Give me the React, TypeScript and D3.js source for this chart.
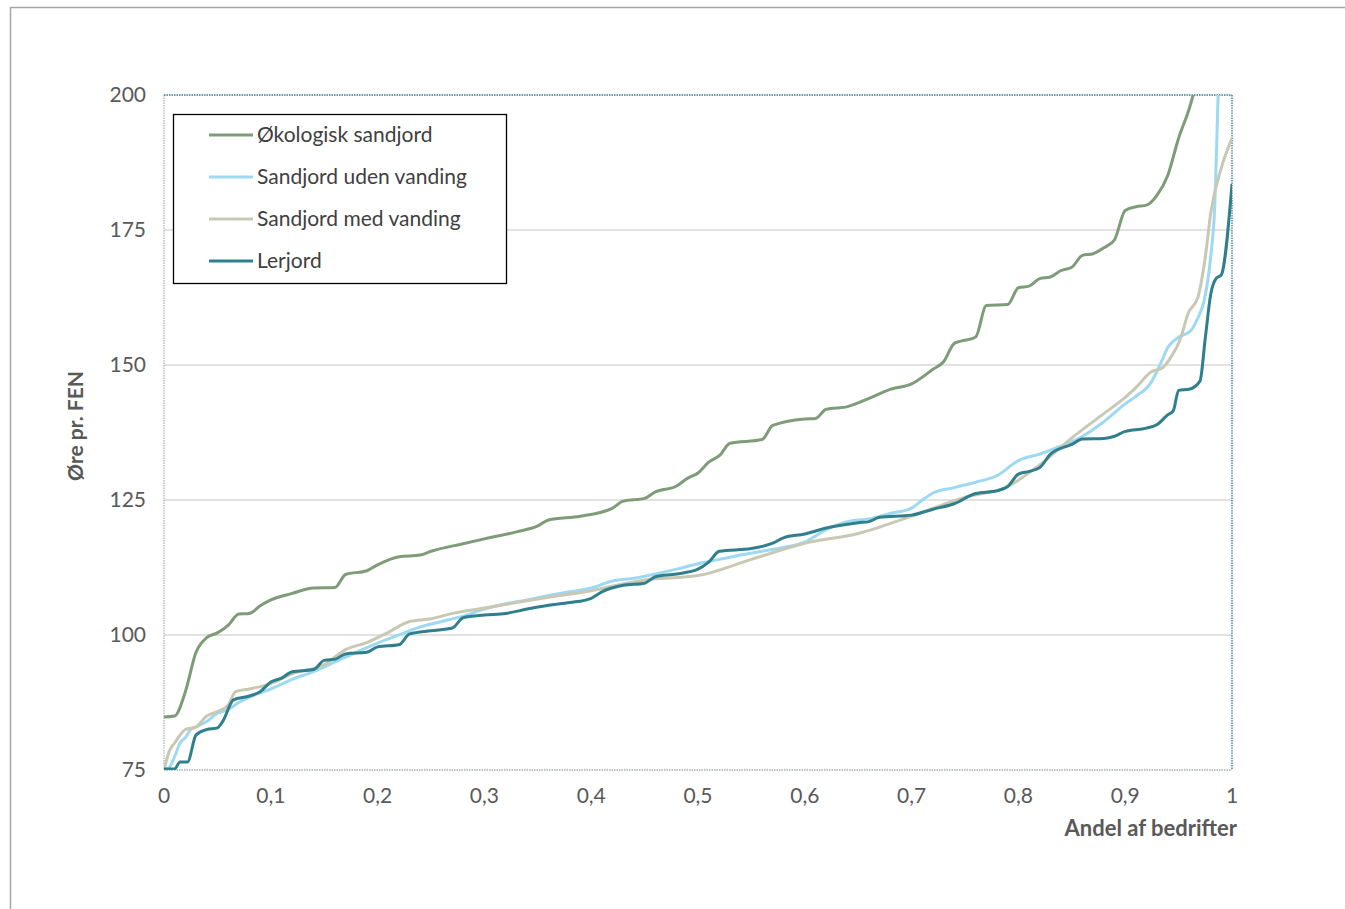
import React from 'react';
import * as d3 from 'd3';

// [andel, øre pr. FEN]
const okologisk: [number, number][] = [
  [0, 84.8], [0.01, 85], [0.02, 89.5], [0.03, 96.8], [0.04, 99.5], [0.05, 100.4], [0.06, 101.8],
  [0.07, 103.9], [0.08, 104], [0.09, 105.4], [0.1, 106.5], [0.12, 107.7], [0.14, 108.7], [0.16, 108.8],
  [0.17, 111.2], [0.19, 111.9], [0.2, 113], [0.22, 114.5], [0.24, 114.8], [0.25, 115.5], [0.28, 116.9],
  [0.3, 117.8], [0.33, 119.1], [0.35, 120.2], [0.36, 121.3], [0.39, 122], [0.42, 123.5], [0.43, 124.8],
  [0.45, 125.3], [0.46, 126.5], [0.48, 127.6], [0.49, 129], [0.5, 130], [0.51, 132], [0.52, 133.2],
  [0.53, 135.5], [0.56, 136.2], [0.57, 138.8], [0.6, 140], [0.61, 140.1], [0.62, 141.8], [0.64, 142.3],
  [0.66, 143.8], [0.68, 145.5], [0.7, 146.5], [0.72, 149.2], [0.73, 150.6], [0.74, 154], [0.76, 155.2],
  [0.77, 161], [0.79, 161.2], [0.8, 164.3], [0.81, 164.6], [0.82, 166], [0.83, 166.3], [0.84, 167.5],
  [0.85, 168.1], [0.86, 170.3], [0.87, 170.6], [0.88, 171.7], [0.89, 173.2], [0.9, 178.6], [0.91, 179.3],
  [0.92, 179.6], [0.93, 181.5], [0.94, 185.2], [0.95, 192], [0.96, 197.5], [0.965, 201], [0.98, 215],
];

const udenVanding: [number, number][] = [
  [0, 75], [0.005, 75.5], [0.01, 77.5], [0.015, 80], [0.02, 81], [0.025, 82.5], [0.03, 83], [0.04, 84],
  [0.05, 85.5], [0.06, 86.2], [0.07, 87.5], [0.08, 88.5], [0.1, 90], [0.12, 91.8], [0.14, 93.2],
  [0.16, 95], [0.18, 96.8], [0.2, 98.5], [0.22, 100], [0.24, 101.5], [0.26, 102.5], [0.28, 103.5],
  [0.3, 104.8], [0.32, 105.8], [0.34, 106.5], [0.36, 107.3], [0.38, 108], [0.4, 108.7], [0.42, 110],
  [0.44, 110.5], [0.46, 111.3], [0.48, 112.2], [0.5, 113.2], [0.52, 114], [0.54, 114.8], [0.56, 115.5],
  [0.58, 116.2], [0.6, 117.2], [0.62, 119.5], [0.64, 121], [0.66, 121.5], [0.68, 122.5], [0.7, 123.5],
  [0.71, 125], [0.72, 126.3], [0.74, 127.3], [0.76, 128.3], [0.78, 129.5], [0.8, 132.3], [0.82, 133.5],
  [0.84, 135], [0.86, 136.8], [0.88, 139.5], [0.9, 142.8], [0.91, 144.2], [0.924, 146.7], [0.933, 150.2],
  [0.94, 153.3], [0.949, 155], [0.962, 156.5], [0.968, 158.7], [0.974, 162], [0.98, 170], [0.984, 180],
  [0.987, 200], [0.99, 215],
];

const medVanding: [number, number][] = [
  [0, 75], [0.005, 78.5], [0.01, 80], [0.02, 82.5], [0.03, 83], [0.04, 85], [0.05, 85.8], [0.06, 87],
  [0.067, 89.5], [0.08, 90], [0.1, 91], [0.12, 92.8], [0.15, 94.5], [0.17, 97.3], [0.19, 98.6],
  [0.21, 100.5], [0.23, 102.5], [0.25, 103], [0.27, 104], [0.3, 105], [0.33, 106], [0.36, 107],
  [0.4, 108.2], [0.45, 110.2], [0.5, 111], [0.55, 114], [0.6, 117], [0.65, 118.8], [0.7, 122],
  [0.75, 125.5], [0.79, 127.5], [0.82, 131.5], [0.85, 136.5], [0.88, 141], [0.9, 144], [0.91, 145.8],
  [0.924, 148.7], [0.935, 149.5], [0.943, 151.5], [0.952, 155], [0.959, 159.6], [0.968, 162.5],
  [0.975, 170], [0.98, 178], [0.99, 186.5], [1, 192],
];

const lerjord: [number, number][] = [
  [0, 75.2], [0.01, 75.2], [0.015, 76.5], [0.022, 76.5], [0.03, 81.5], [0.04, 82.5], [0.05, 82.8],
  [0.055, 84], [0.065, 88], [0.08, 88.7], [0.09, 89.5], [0.1, 91.3], [0.11, 92], [0.12, 93.2],
  [0.14, 93.6], [0.15, 95.3], [0.16, 95.5], [0.17, 96.5], [0.19, 96.8], [0.2, 97.8], [0.22, 98.2],
  [0.23, 100.2], [0.25, 100.8], [0.27, 101.3], [0.28, 103.2], [0.3, 103.7], [0.32, 104], [0.34, 104.8],
  [0.36, 105.5], [0.38, 106], [0.4, 106.8], [0.41, 108], [0.43, 109.2], [0.45, 109.6], [0.46, 110.8],
  [0.48, 111.3], [0.5, 112.2], [0.51, 113.5], [0.52, 115.5], [0.55, 116], [0.57, 117], [0.58, 118],
  [0.6, 118.7], [0.62, 119.8], [0.65, 120.8], [0.66, 121], [0.67, 121.8], [0.7, 122.2], [0.72, 123.3],
  [0.74, 124.3], [0.76, 126.2], [0.78, 126.7], [0.79, 127.5], [0.8, 129.8], [0.81, 130.3], [0.82, 131],
  [0.83, 133.5], [0.85, 135.3], [0.86, 136.3], [0.88, 136.4], [0.89, 136.8], [0.9, 137.7], [0.92, 138.3],
  [0.93, 139], [0.94, 140.8], [0.945, 141.5], [0.95, 145.3], [0.96, 145.5], [0.97, 147], [0.975, 155],
  [0.98, 163], [0.985, 166], [0.99, 166.7], [1, 183.5],
];

const seriesNames = ['Økologisk sandjord', 'Sandjord uden vanding', 'Sandjord med vanding', 'Lerjord'];
const seriesColors = ['#7d9c77', '#9dd9f2', '#c9c8b4', '#2f7f8d'];
const seriesData = [okologisk, udenVanding, medVanding, lerjord];

const yTicks = [75, 100, 125, 150, 175, 200];
const xTicks = [0, 0.1, 0.2, 0.3, 0.4, 0.5, 0.6, 0.7, 0.8, 0.9, 1];

const font = 'Lato, "Open Sans", sans-serif';

export default function App() {
  const width = 1345;
  const height = 909;
  const margin = { top: 95, right: 113, bottom: 139, left: 164 };

  const x = d3.scaleLinear().domain([0, 1]).range([margin.left, width - margin.right]);
  const y = d3.scaleLinear().domain([75, 200]).range([height - margin.bottom, margin.top]);

  const line = d3.line<[number, number]>()
    .x(d => x(d[0]))
    .y(d => y(d[1]))
    .curve(d3.curveMonotoneX);

  const [x0, x1] = x.range();
  const [yb, yt] = y.range();

  return (
    <svg width={width} height={height} style={{ position: 'absolute', left: 0, top: 0 }}>
      <rect x={10.5} y={7.5} width={width} height={height} fill="white" stroke="#a6a6a6" strokeWidth={1.5} />
      <defs>
        <clipPath id="plot">
          <rect x={x0} y={yt} width={x1 - x0} height={yb - yt} />
        </clipPath>
      </defs>

      {yTicks.slice(1, -1).map(t => (
        <line key={t} x1={x0} x2={x1} y1={y(t)} y2={y(t)} stroke="#d9d9d9" strokeWidth={1.3} />
      ))}

      <line x1={x0} x2={x0} y1={yt} y2={yb} stroke="#a9b7bb" strokeWidth={1.3} strokeDasharray="1.5 1" />
      <line x1={x0} x2={x1} y1={yb} y2={yb} stroke="#a9b0b3" strokeWidth={1.3} strokeDasharray="1.5 1" />
      <line x1={x0} x2={x1} y1={yt} y2={yt} stroke="#2f7f8d" strokeWidth={1.3} strokeDasharray="1.5 1" />
      <line x1={x1} x2={x1} y1={yt} y2={yb} stroke="#2f7f8d" strokeWidth={1.3} strokeDasharray="1.5 1" />

      <g clipPath="url(#plot)">
        {seriesData.map((d, i) => (
          <path key={seriesNames[i]} d={line(d) ?? ''} fill="none" stroke={seriesColors[i]} strokeWidth={3} strokeLinejoin="round" />
        ))}
      </g>

      {yTicks.map(t => (
        <text key={t} x={x0 - 18} y={y(t)} dy="0.35em" textAnchor="end" fontFamily={font} fontSize={21} fill="#595959">
          {t}
        </text>
      ))}
      {xTicks.map(t => (
        <text key={t} x={x(t)} y={yb + 33} textAnchor="middle" fontFamily={font} fontSize={21} fill="#595959">
          {String(t).replace('.', ',')}
        </text>
      ))}

      <text transform={`translate(83,426) rotate(-90)`} textAnchor="middle" fontFamily={font} fontSize={21} fontWeight="bold" fill="#595959">
        Øre pr. FEN
      </text>
      <text x={x1 + 5} y={yb + 66} textAnchor="end" fontFamily={font} fontSize={22} fontWeight="bold" fill="#595959">
        Andel af bedrifter
      </text>

      <rect x={173.5} y={114.5} width={333} height={169} fill="white" stroke="#000" strokeWidth={1.3} />
      {seriesNames.map((name, i) => (
        <g key={name} transform={`translate(209,${135 + i * 42})`}>
          <line x1={0} x2={44} y1={0} y2={0} stroke={seriesColors[i]} strokeWidth={3} />
          <text x={48} y={0} dy="0.35em" fontFamily={font} fontSize={21} fill="#404040">{name}</text>
        </g>
      ))}
    </svg>
  );
}
